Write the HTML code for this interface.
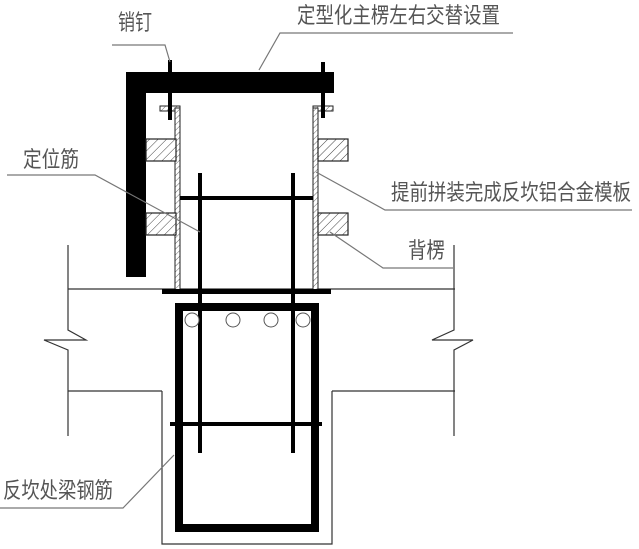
<!DOCTYPE html>
<html><head><meta charset="utf-8"><style>
html,body{margin:0;padding:0;background:#fff;}
svg{display:block;}
text{font-family:"Liberation Sans","Noto Sans CJK SC",sans-serif;fill:#555;font-size:22px;}
</style></head><body>
<svg width="639" height="549" viewBox="0 0 639 549" xmlns="http://www.w3.org/2000/svg">
<defs>
<pattern id="h" width="6" height="6" patternUnits="userSpaceOnUse" patternTransform="rotate(45)">
<rect width="6" height="6" fill="#fff"/><line x1="0" y1="0" x2="0" y2="6" stroke="#444" stroke-width="1"/>
</pattern>
<pattern id="h2" width="4" height="4" patternUnits="userSpaceOnUse" patternTransform="rotate(45)">
<rect width="4" height="4" fill="#fff"/><line x1="0" y1="0" x2="0" y2="4" stroke="#444" stroke-width="0.8"/>
</pattern>
</defs>
<!-- slab lines -->
<g stroke="#333" stroke-width="1.2" fill="none">
<line x1="68" y1="289" x2="455" y2="289"/>
<line x1="68" y1="391" x2="162" y2="391"/>
<line x1="332" y1="391" x2="455" y2="391"/>
<polyline points="68,245 68,330 86,340 44,340 68,350 68,436"/>
<polyline points="454,245 454,330 432,340 473,340 454,350 454,436"/>
<polyline points="162,391 162,544 332,544 332,391"/>
</g>
<!-- main beam -->
<rect x="126" y="72" width="208" height="21" fill="#000"/>
<rect x="126" y="72" width="20" height="205" fill="#000"/>
<!-- pins -->
<rect x="168" y="60" width="4" height="60" fill="#000"/>
<rect x="321" y="62" width="4" height="56" fill="#000"/>
<!-- plates -->
<rect x="160" y="106" width="20" height="5" fill="url(#h2)" stroke="#222" stroke-width="1"/>
<rect x="175" y="108" width="5" height="182" fill="url(#h2)" stroke="#222" stroke-width="1"/>
<rect x="313" y="106" width="20" height="5" fill="url(#h2)" stroke="#222" stroke-width="1"/>
<rect x="313" y="108" width="5" height="182" fill="url(#h2)" stroke="#222" stroke-width="1"/>
<rect x="168" y="104" width="4" height="16" fill="#000"/>
<rect x="321" y="104" width="4" height="14" fill="#000"/>
<!-- hatched blocks -->
<g stroke="#222" stroke-width="1.2">
<rect x="146" y="139" width="30" height="22" fill="url(#h)"/>
<rect x="146" y="213" width="30" height="22" fill="url(#h)"/>
<rect x="318" y="139" width="30" height="22" fill="url(#h)"/>
<rect x="318" y="213" width="30" height="22" fill="url(#h)"/>
</g>
<!-- base plate -->
<rect x="162" y="289" width="169" height="5" fill="#000"/>
<!-- stirrup -->
<rect x="179" y="307" width="136" height="221" fill="none" stroke="#000" stroke-width="8"/>
<!-- rebars -->
<rect x="198" y="173" width="4" height="280" fill="#000"/>
<rect x="291" y="173" width="4" height="280" fill="#000"/>
<rect x="180" y="196" width="133" height="4" fill="#000"/>
<rect x="170" y="422" width="152" height="4" fill="#000"/>
<g fill="#fff" stroke="#555" stroke-width="1">
<circle cx="192" cy="320" r="7"/><circle cx="233" cy="320" r="7"/>
<circle cx="271" cy="320" r="7"/><circle cx="303" cy="320" r="7"/>
</g>
<!-- leaders -->
<g stroke="#777" stroke-width="1.2" fill="none">
<polyline points="112,45 165,45 170,62"/>
<polyline points="259,70 280,33 513,33"/>
<polyline points="7,175 95,175 200,232"/>
<polyline points="316,172 385,210 632,210"/>
<polyline points="330,232 383,268 453,268"/>
<polyline points="174,455 123,508 0,508"/>
</g>
<!-- labels -->
<text x="118" y="30" textLength="34" lengthAdjust="spacingAndGlyphs">销钉</text>
<text x="297" y="23" textLength="203" lengthAdjust="spacingAndGlyphs">定型化主楞左右交替设置</text>
<text x="23" y="167" textLength="56" lengthAdjust="spacingAndGlyphs">定位筋</text>
<text x="391" y="200" textLength="240" lengthAdjust="spacingAndGlyphs">提前拼装完成反坎铝合金模板</text>
<text x="408" y="258" textLength="37" lengthAdjust="spacingAndGlyphs">背楞</text>
<text x="3" y="498" textLength="110" lengthAdjust="spacingAndGlyphs">反坎处梁钢筋</text>
</svg>
</body></html>
